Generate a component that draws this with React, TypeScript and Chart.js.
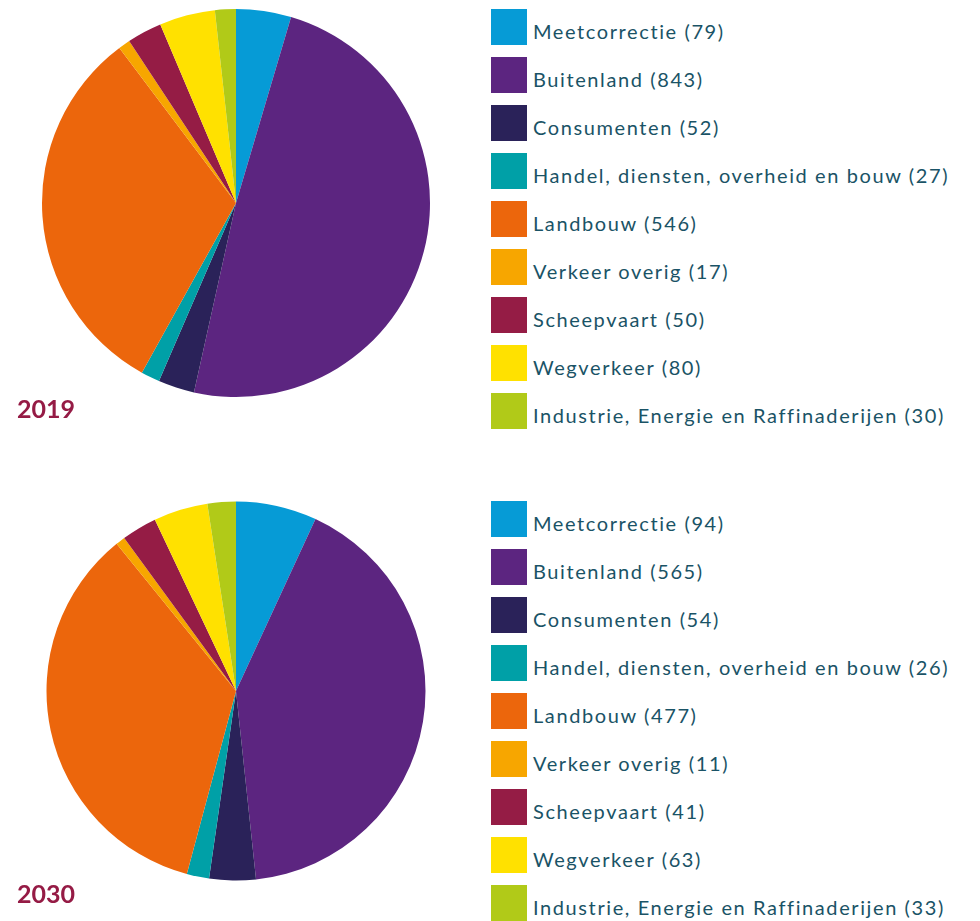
import React, { useEffect, useRef } from "react";
import { Chart, registerables } from "chart.js";

Chart.register(...registerables);

const categories = [
  "Meetcorrectie",
  "Buitenland",
  "Consumenten",
  "Handel, diensten, overheid en bouw",
  "Landbouw",
  "Verkeer overig",
  "Scheepvaart",
  "Wegverkeer",
  "Industrie, Energie en Raffinaderijen",
];
const values2019 = [79, 843, 52, 27, 546, 17, 50, 80, 30];
const values2030 = [94, 565, 54, 26, 477, 11, 41, 63, 33];
const colors = [
  "#069bd6",
  "#5c2580",
  "#2a2259",
  "#00a0a7",
  "#ec660c",
  "#f7a600",
  "#951c45",
  "#ffe100",
  "#b1ca18",
];
const years = ["2019", "2030"];

const FONT = "Lato, 'Open Sans', sans-serif";
const TEXT_COLOR = "#1a5366";
const YEAR_COLOR = "#951b45";

type PieProps = { values: number[]; radius: number; left: number; top: number };

function Pie({ values, radius, left, top }: PieProps) {
  const ref = useRef<HTMLCanvasElement | null>(null);
  useEffect(() => {
    if (!ref.current) return;
    const chart = new Chart(ref.current, {
      type: "pie",
      data: {
        labels: categories,
        datasets: [
          {
            data: values,
            backgroundColor: colors,
            borderWidth: 0,
            radius: radius,
          },
        ],
      },
      options: {
        responsive: false,
        animation: false,
        devicePixelRatio: 1,
        layout: { padding: 0 },
        plugins: {
          legend: { display: false },
          tooltip: { enabled: false },
        },
      },
    });
    return () => chart.destroy();
  }, [values, radius]);
  return (
    <canvas
      ref={ref}
      width={400}
      height={400}
      style={{ position: "absolute", left, top, width: 400, height: 400 }}
    />
  );
}

type LegendProps = { values: number[]; left: number; top: number };

function Legend({ values, left, top }: LegendProps) {
  const fs = 20;
  return (
    <div style={{ position: "absolute", left, top }}>
      {categories.map((c, i) => (
        <div
          key={c}
          style={{ position: "absolute", left: 0, top: i * 48, width: 480, height: 36 }}
        >
          <div
            style={{
              position: "absolute",
              left: 0,
              top: 0,
              width: 36,
              height: 36,
              background: colors[i],
            }}
          />
          <div
            style={{
              position: "absolute",
              left: 42,
              top: 30 - 0.887 * fs,
              fontFamily: FONT,
              fontSize: fs,
              lineHeight: `${fs}px`,
              letterSpacing: "1.6px",
              color: TEXT_COLOR,
              whiteSpace: "nowrap",
            }}
          >
            {`${c} (${values[i]})`}
          </div>
        </div>
      ))}
    </div>
  );
}

function Year({ text, left, baseline }: { text: string; left: number; baseline: number }) {
  const fs = 25;
  return (
    <div
      style={{
        position: "absolute",
        left,
        top: baseline - 0.887 * fs,
        fontFamily: FONT,
        fontWeight: 700,
        fontSize: fs,
        lineHeight: `${fs}px`,
        color: YEAR_COLOR,
      }}
    >
      {text}
    </div>
  );
}

export default function App() {
  return (
    <div style={{ position: "relative", width: 964, height: 913 }}>
      <Pie values={values2019} radius={194} left={28} top={-5} />
      <Legend values={values2019} left={483} top={1} />
      <Year text={years[0]} left={9} baseline={410} />

      <Pie values={values2030} radius={189.5} left={27.5} top={483.3} />
      <Legend values={values2030} left={483} top={493} />
      <Year text={years[1]} left={9} baseline={895} />
    </div>
  );
}
